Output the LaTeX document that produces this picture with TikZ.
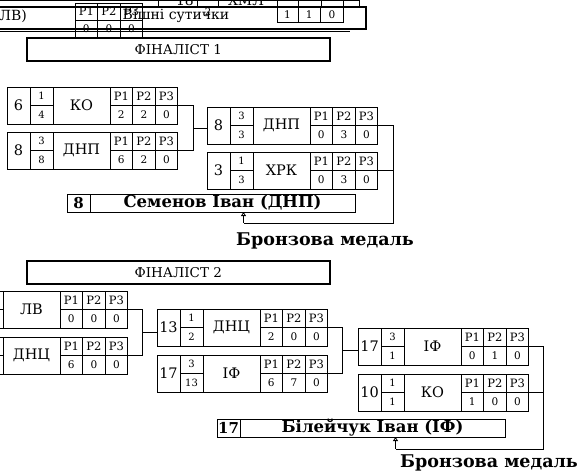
\documentclass[tikz,border=0pt]{standalone}
\usepackage{fontspec}
\setmainfont{DejaVu Serif}
\usepackage{tikz}
\usetikzlibrary{arrows.meta, positioning, calc}
\tikzset{
	cellbase/.style ={draw=black, line width=0.8pt, inner sep=0pt, outer sep=0pt, text centered},
	seedcell/.style ={cellbase, minimum width=23pt, minimum height=37pt, font=\fontsize{14.5}{14.5}\selectfont},
	smallcell/.style={cellbase, minimum width=23pt, minimum height=18.5pt, font=\fontsize{10}{10}\selectfont},
	teamcell/.style ={cellbase, minimum width=57pt, minimum height=37pt, font=\fontsize{14.5}{14.5}\selectfont},
	roundcell/.style={cellbase, minimum width=22.6pt, minimum height=18.5pt, font=\fontsize{11.5}{11.5}\selectfont},
	scorecell/.style={cellbase, minimum width=22.6pt, minimum height=18.5pt, font=\fontsize{10.5}{10.5}\selectfont},
	finalbox/.style ={draw=black, line width=1.6pt, minimum width=303pt, minimum height=23pt, inner sep=0pt, font=\fontsize{13.5}{13.5}\selectfont},
	% winner row helpers
	winseed/.style  ={cellbase, minimum width=23pt, minimum height=18pt, font=\bfseries\fontsize{15}{15}\selectfont},
	winname/.style  ={cellbase, minimum width=265pt, minimum height=18pt, font=\bfseries\fontsize{16.5}{16.5}\selectfont},
	medal/.style    ={inner sep=0pt, font=\bfseries\fontsize{17.5}{17.5}\selectfont},
	link/.style     ={line width=0.8pt},
	medalarrow/.style={line width=0.8pt, -{Triangle[open, length=4pt, width=5pt]}},
	plaintext/.style={inner sep=0pt, font=\fontsize{14}{14}\selectfont},
}
% one team row: name, top-left corner, seed, top, bottom, team, scores
\newcommand{\entrybox}[9]{%
	\node[seedcell, anchor=north west] (#1-seed) at (#2) {#3};
	\node[smallcell, anchor=north west] (#1-t) at (#1-seed.north east) {#4};
	\node[smallcell, below=0pt of #1-t] (#1-b) {#5};
	\node[teamcell, anchor=north west] (#1-team) at (#1-t.north east) {#6};
	\node[roundcell, anchor=north west] (#1-h1) at (#1-team.north east) {Р1};
	\node[roundcell, right=0pt of #1-h1] (#1-h2) {Р2};
	\node[roundcell, right=0pt of #1-h2] (#1-h3) {Р3};
	\node[scorecell, below=0pt of #1-h1] (#1-v1) {#7};
	\node[scorecell, below=0pt of #1-h2] (#1-v2) {#8};
	\node[scorecell, below=0pt of #1-h3] (#1-v3) {#9};
}
% winner row: name, top-left corner, seed, full name
\newcommand{\winnerbox}[4]{%
	\node[winseed, anchor=north west] (#1-seed) at (#2) {#3};
	\node[winname, anchor=north west] (#1-name) at (#1-seed.north east) {#4};
}

\begin{document}
\begin{tikzpicture}[x=1pt, y=-1pt]
	\clip (0,0) rectangle (588,473);

	% cut-off rows of the previous bracket
	\draw[link] (0,0.5) -- (359,0.5);
	\foreach \xx in {158,197,218,277,298,321,343,359} {\draw[link] (\xx,0) -- (\xx,7);}
	\node[plaintext] (prev-seed) at (185,0) {18};
	\node[plaintext] (prev-team) at (246,0) {ХМЛ};
	\node[plaintext, font=\fontsize{10}{10}\selectfont] (prev-t) at (208,12) {2};
	\node[roundcell, minimum height=17pt, anchor=north west] (prev-h1) at (75,3) {Р1};
	\node[roundcell, minimum height=17pt, right=0pt of prev-h1] (prev-h2) {Р2};
	\node[roundcell, minimum height=17pt, right=0pt of prev-h2] (prev-h3) {Р3};
	\node[scorecell, minimum height=17pt, below=0pt of prev-h1] (prev-v1) {0};
	\node[scorecell, minimum height=17pt, below=0pt of prev-h2] (prev-v2) {0};
	\node[scorecell, minimum height=17pt, below=0pt of prev-h3] (prev-v3) {0};
	\node[scorecell, minimum width=21pt, minimum height=15pt, anchor=north west] (prev-s1) at (277,7) {1};
	\node[scorecell, minimum height=15pt, right=0pt of prev-s1] (prev-s2) {1};
	\node[scorecell, minimum height=15pt, right=0pt of prev-s2] (prev-s3) {0};
	\draw[line width=1.5pt] (-2,7) rectangle (366,29);
	\draw[link] (0,31.5) -- (350,31.5);
	\node[plaintext, anchor=east] (prev-name) at (27,16) {ЛВ)};
	\node[plaintext] (prev-title) at (176,16) {Вішні сутички};

	% finalist 1
	\node[finalbox, anchor=north west] (fin1) at (26,37) {ФІНАЛІСТ 1};
	\entrybox{A}{7,87}{6}{1}{4}{КО}{2}{2}{0}
	\entrybox{B}{7,132}{8}{3}{8}{ДНП}{6}{2}{0}
	\entrybox{C}{207,107}{8}{3}{3}{ДНП}{0}{3}{0}
	\entrybox{D}{207,152}{3}{1}{3}{ХРК}{0}{3}{0}
	\winnerbox{W1}{67,194}{8}{Семенов Іван (ДНП)}
	\node[medal] (medal1) at (325,241) {Бронзова медаль};

	\coordinate (j1) at ($(A-v3.north east)!0.5!(B-v3.north east)+(16,0)$);
	\draw[link] (A-v3.north east) -| (j1) |- (B-v3.north east);
	\draw[link] (j1) -- (j1 -| C-seed.west);
	\coordinate (c1) at ($(C-v3.north east)+(16,0)$);
	\coordinate (k1) at ($(W1-name.south)+(21,11)$);
	\draw[link] (C-v3.north east) -- (c1) -- (c1 |- k1) -- (k1);
	\draw[link] (D-v3.north east) -- (D-v3.north east -| c1);
	\draw[medalarrow] (k1) -- (k1 |- W1-name.south);

	% finalist 2
	\node[finalbox, anchor=north west] (fin2) at (26,260) {ФІНАЛІСТ 2};
	\entrybox{E}{-43,291}{}{}{}{ЛВ}{0}{0}{0}
	\entrybox{F}{-43,337}{}{}{}{ДНЦ}{6}{0}{0}
	\entrybox{G}{157,309}{13}{1}{2}{ДНЦ}{2}{0}{0}
	\entrybox{H}{157,355}{17}{3}{13}{ІФ}{6}{7}{0}
	\entrybox{I}{358,328}{17}{3}{1}{ІФ}{0}{1}{0}
	\entrybox{J}{358,374}{10}{1}{1}{КО}{1}{0}{0}
	\winnerbox{W2}{217,419}{17}{Білейчук Іван (ІФ)}
	\node[medal] (medal2) at (489,463) {Бронзова медаль};

	\coordinate (j2) at ($(E-v3.north east)!0.5!(F-v3.north east)+(15,0)$);
	\draw[link] (E-v3.north east) -| (j2) |- (F-v3.north east);
	\draw[link] (j2) -- (j2 -| G-seed.west);
	\coordinate (j3) at ($(G-v3.north east)!0.5!(H-v3.north east)+(15,0)$);
	\draw[link] (G-v3.north east) -| (j3) |- (H-v3.north east);
	\draw[link] (j3) -- (j3 -| I-seed.west);
	\coordinate (c2) at ($(I-v3.north east)+(15,0)$);
	\coordinate (k2) at ($(W2-name.south)+(23,12)$);
	\draw[link] (I-v3.north east) -- (c2) -- (c2 |- k2) -- (k2);
	\draw[link] (J-v3.north east) -- (J-v3.north east -| c2);
	\draw[medalarrow] (k2) -- (k2 |- W2-name.south);
\end{tikzpicture}
\end{document}
